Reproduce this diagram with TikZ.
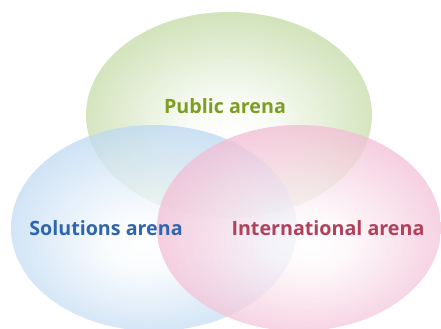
\documentclass[tikz,border=0pt]{standalone}
\usepackage{fontspec}
\setmainfont{Open Sans}
\definecolor{pubedge}{HTML}{B2D08C}
\definecolor{soledge}{HTML}{AACDEE}
\definecolor{intedge}{HTML}{EEAAC8}
\definecolor{pubtext}{HTML}{7E9D23}
\definecolor{soltext}{HTML}{2F66AE}
\definecolor{inttext}{HTML}{B3405B}
\pgfdeclareradialshading{pubglow}{\pgfpoint{0bp}{-4bp}}{color(0bp)=(white); color(7bp)=(pubedge!10!white); color(25bp)=(pubedge!72!white); color(35bp)=(pubedge); color(50bp)=(pubedge)}
\pgfdeclareradialshading{solglow}{\pgfpoint{-2bp}{-4bp}}{color(0bp)=(white); color(7bp)=(soledge!10!white); color(25bp)=(soledge!72!white); color(35bp)=(soledge); color(50bp)=(soledge)}
\pgfdeclareradialshading{intglow}{\pgfpoint{2bp}{-4bp}}{color(0bp)=(white); color(7bp)=(intedge!10!white); color(25bp)=(intedge!72!white); color(35bp)=(intedge); color(50bp)=(intedge)}
\tikzset{
  arena/.style={fill opacity=0.76},
  label/.style={font=\bfseries\fontsize{11.2}{13}\selectfont}
}
\begin{document}
\begin{tikzpicture}[x=0.02cm, y=-0.02cm]
  \useasboundingbox (0,0) rectangle (441,329);
  % the three arenas
  \shade[arena, shading=pubglow] (229,115) ellipse [x radius=143, y radius=103];
  \shade[arena, shading=solglow] (154,228) ellipse [x radius=143, y radius=103];
  \shade[arena, shading=intglow] (299,228) ellipse [x radius=142, y radius=103];
  % labels
  \node[label, color=pubtext] (P) at (225,106) {Public arena};
  \node[label, color=soltext] (S) at (106,228) {Solutions arena};
  \node[label, color=inttext] (I) at (328,228) {International arena};
\end{tikzpicture}
\end{document}
